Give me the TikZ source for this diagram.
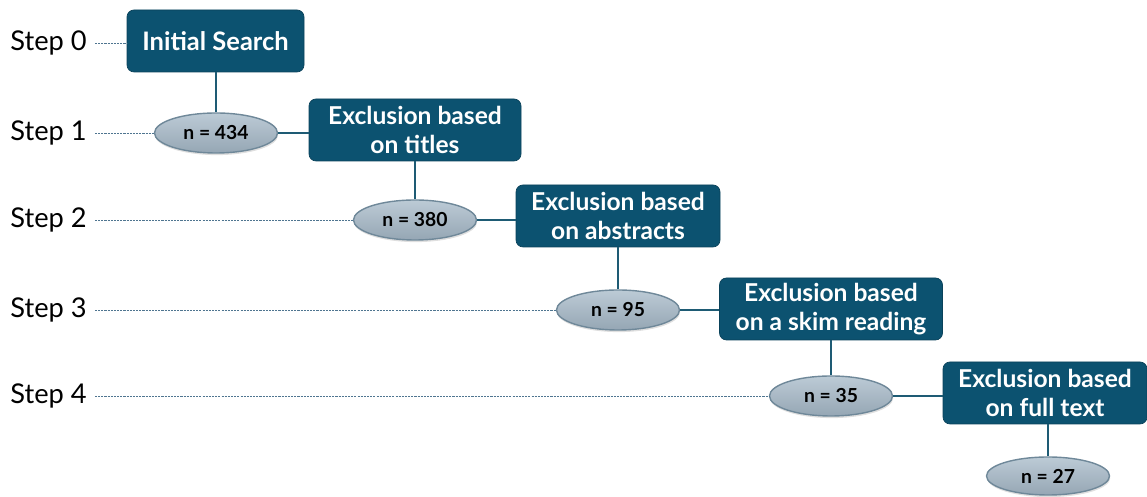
\documentclass[tikz,border=0pt]{standalone}
\usepackage{fontspec}
\setmainfont{Lato}
\usetikzlibrary{positioning, shapes.geometric, shadows}
\definecolor{boxteal}{HTML}{0C5270}
\definecolor{linkteal}{HTML}{1E5B74}
\definecolor{ellfill}{HTML}{A6B9C8}
\definecolor{ellrim}{HTML}{6F8899}
\definecolor{guide}{HTML}{4F7590}

\begin{document}
\begin{tikzpicture}[
    stage/.style={draw=boxteal!80!black, fill=boxteal, rounded corners=4pt, minimum height=1.24cm,
        text=white, align=center, font=\fontsize{14}{16.5}\selectfont\bfseries, inner sep=2pt},
    count/.style={ellipse, draw=ellrim, thick, top color=ellfill!75!white, bottom color=ellfill!90!black,
        minimum width=2.46cm, minimum height=0.8cm, font=\fontsize{11}{12}\selectfont\bfseries,
        drop shadow={opacity=0.25, shadow xshift=0.4pt, shadow yshift=-1.2pt}},
    lbl/.style={font=\fontsize{15.5}{18}\selectfont, anchor=west, inner sep=0pt},
    link/.style={draw=linkteal, line width=1.4pt},
    guideline/.style={draw=guide, dash pattern=on 1.2pt off 0.6pt, line width=0.5pt}
]
    \useasboundingbox (0,0) rectangle (22.94,9.94);

    % step labels
    \node[lbl] (s0) at (0.2, 9.08) {Step 0};
    \node[lbl] (s1) at (0.2, 7.28) {Step 1};
    \node[lbl] (s2) at (0.2, 5.54) {Step 2};
    \node[lbl] (s3) at (0.2, 3.74) {Step 3};
    \node[lbl] (s4) at (0.2, 2.02) {Step 4};

    % initial search
    \node[stage, minimum width=3.54cm, font=\fontsize{14.5}{16}\selectfont\bfseries] (search) at (4.31, 9.12) {Initial Search};
    \node[count] (n434) at (4.32, 7.28) {n = 434};

    % titles
    \node[stage, minimum width=4.24cm] (titles) at (8.30, 7.34) {Exclusion based\\on titles};
    \node[count] (n380) at (8.30, 5.54) {n = 380};

    % abstracts
    \node[stage, minimum width=4.08cm] (abstr) at (12.36, 5.62) {Exclusion based\\on abstracts};
    \node[count] (n95) at (12.36, 3.74) {n = 95};

    % skim reading
    \node[stage, minimum width=4.46cm] (skim) at (16.62, 3.76) {Exclusion based\\on a skim reading};
    \node[count] (n35) at (16.62, 2.02) {n = 35};

    % full text
    \node[stage, minimum width=4.08cm] (full) at (20.90, 2.08) {Exclusion based\\on full text};
    \node[count, minimum height=0.76cm] (n27) at (20.96, 0.42) {n = 27};

    % dotted guide lines
    \coordinate (g0) at (1.9, 9.08);
    \coordinate (g1) at (1.9, 7.28);
    \coordinate (g2) at (1.9, 5.54);
    \coordinate (g3) at (1.9, 3.74);
    \coordinate (g4) at (1.9, 2.02);
    \draw[guideline] (g0) -- (search.west |- g0);
    \draw[guideline] (g1) -- (n434.west);
    \draw[guideline] (g2) -- (n380.west);
    \draw[guideline] (g3) -- (n95.west);
    \draw[guideline] (g4) -- (n35.west);

    % connectors
    \draw[link] (search.south -| n434.north) -- (n434.north);
    \draw[link] (n434.east) -- (titles.west |- n434.east);
    \draw[link] (titles.south) -- (n380.north);
    \draw[link] (n380.east) -- (abstr.west |- n380.east);
    \draw[link] (abstr.south) -- (n95.north);
    \draw[link] (n95.east) -- (skim.west |- n95.east);
    \draw[link] (skim.south) -- (n35.north);
    \draw[link] (n35.east) -- (full.west |- n35.east);
    \draw[link] (full.south -| n27.north) -- (n27.north);
\end{tikzpicture}
\end{document}
